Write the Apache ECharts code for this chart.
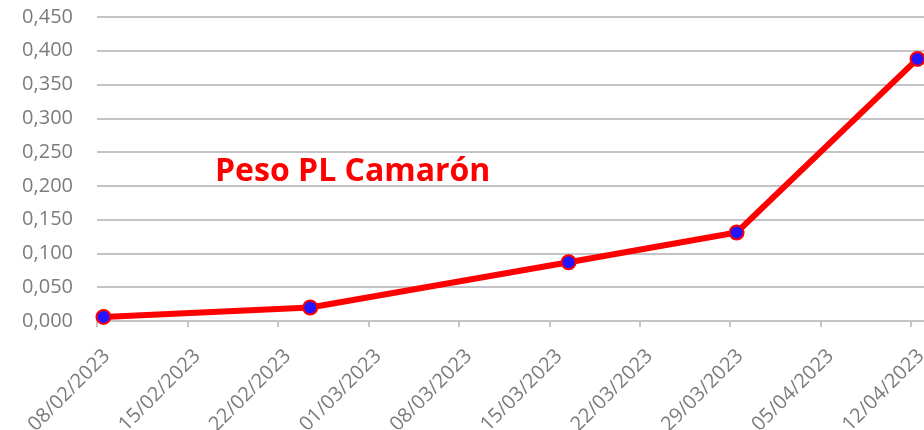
<!DOCTYPE html>
<html>
<head>
<meta charset="utf-8">
<script src="https://cdn.jsdelivr.net/npm/echarts@6/dist/echarts.min.js"></script>
<style>html,body{margin:0;padding:0;background:#fff;}#c{width:924px;height:430px;}</style>
</head>
<body>
<div id="c"></div>
<script>
var chartTitle = 'Peso PL Camarón';
var startDate = '08/02/2023';
var endDate = '13/04/2023';
var sampleDates = ['08/02/2023', '24/02/2023', '16/03/2023', '29/03/2023', '12/04/2023'];
var weights = [0.006, 0.020, 0.087, 0.131, 0.388];
var yTicks = [0, 0.05, 0.10, 0.15, 0.20, 0.25, 0.30, 0.35, 0.40, 0.45];

function parseDMY(s) {
  var p = s.split('/');
  return Date.UTC(+p[2], +p[1] - 1, +p[0]);
}
var DAY = 86400000;
var t0 = parseDMY(startDate);
function dayOf(s) { return (parseDMY(s) - t0) / DAY; }
function pad(n) { return (n < 10 ? '0' : '') + n; }
function fmtDay(d) {
  var dt = new Date(t0 + d * DAY);
  return pad(dt.getUTCDate()) + '/' + pad(dt.getUTCMonth() + 1) + '/' + dt.getUTCFullYear();
}

var seriesData = sampleDates.map(function (d, i) { return [dayOf(d) + 0.5, weights[i]]; });

var chart = echarts.init(document.getElementById('c'));
chart.setOption({
  animation: false,
  backgroundColor: '#ffffff',
  grid: { left: 97, right: 0, top: 17, bottom: 109, containLabel: false, outerBoundsMode: 'none' },
  graphic: [{
    type: 'text',
    left: 215,
    top: 156,
    style: { text: chartTitle, fill: '#ff0000', font: 'bold 32px "Open Sans"' }
  }],
  xAxis: {
    type: 'value',
    min: 0,
    max: dayOf(endDate),
    interval: 7,
    splitLine: { show: false },
    axisLine: { show: true, lineStyle: { color: '#c6c3c8', width: 2 } },
    axisTick: { show: true, length: 6, lineStyle: { color: '#c6c3c8', width: 2 } },
    axisLabel: {
      rotate: 45,
      margin: 22,
      verticalAlign: 'top',
      padding: [4, 0, 0, 0],
      color: '#7e7a80',
      fontFamily: 'Open Sans',
      fontSize: 20,
      showMaxLabel: false,
      formatter: function (v) { return (v % 7 === 0) ? fmtDay(v) : ''; }
    }
  },
  yAxis: {
    type: 'value',
    min: yTicks[0],
    max: yTicks[yTicks.length - 1],
    interval: yTicks[1] - yTicks[0],
    axisLine: { show: false },
    axisTick: { show: false },
    splitLine: { show: true, lineStyle: { color: '#c6c3c8', width: 2 } },
    axisLabel: {
      margin: 24,
      color: '#7e7a80',
      fontFamily: 'Open Sans',
      fontSize: 20,
      formatter: function (v) { return v.toFixed(3).replace('.', ','); }
    }
  },
  series: [{
    type: 'line',
    data: seriesData,
    symbol: 'circle',
    symbolSize: 14,
    lineStyle: { color: '#ff0000', width: 6 },
    itemStyle: { color: '#2414ff', borderColor: '#ff0000', borderWidth: 2 },
    clip: false,
    z: 3
  }]
});
</script>
</body>
</html>
